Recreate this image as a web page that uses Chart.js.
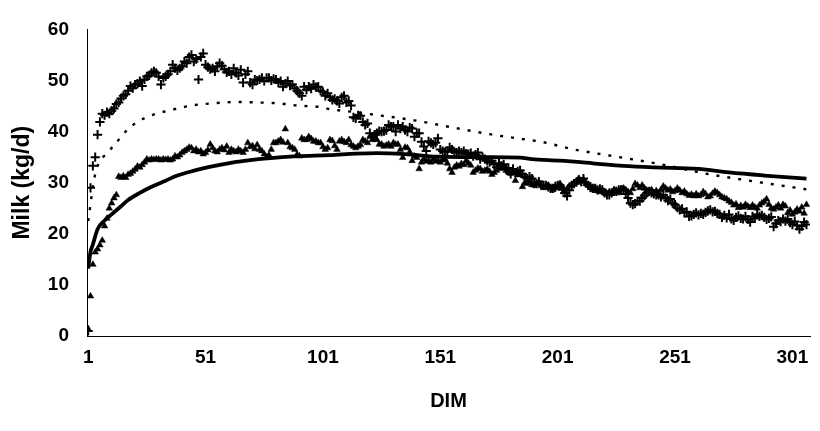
<!DOCTYPE html>
<html>
<head>
<meta charset="utf-8">
<script src="https://cdn.jsdelivr.net/npm/chart.js@4.4.1/dist/chart.umd.min.js"></script>
<style>
  html, body { margin: 0; padding: 0; background: #fff; }
  #chart { display: block; }
</style>
</head>
<body>
<canvas id="chart" width="820" height="431"></canvas>
<script>
// x categories (DIM) and the tick labels shown on the axis
const days = Array.from({ length: 307 }, (_, i) => i + 1);
const dimTicks = [1, 51, 101, 151, 201, 251, 301];
const milkTicks = [0, 10, 20, 30, 40, 50, 60];

// observed milk, "+" group (day 1..307)
const plusMilk = [
  1.0, 29.0, 33.3, 35.0, 39.4, 41.9, 43.5, 43.2, 43.8, 43.5,
  44.1, 44.5, 45.4, 45.7, 46.5, 47.0, 47.3, 48.0, 48.9, 48.5,
  49.2, 49.4, 49.9, 48.9, 50.2, 50.8, 51.0, 51.5, 51.8, 51.5,
  50.8, 49.2, 50.5, 50.8, 51.2, 51.8, 53.1, 52.4, 52.0, 52.4,
  52.8, 53.7, 53.4, 54.6, 55.0, 53.7, 54.2, 50.2, 54.6, 55.3,
  53.1, 52.6, 52.2, 52.4, 51.8, 52.8, 53.4, 52.9, 52.2, 51.6,
  51.8, 51.2, 52.4, 51.5, 51.0, 52.1, 49.6, 51.2, 51.8, 49.6,
  49.2, 50.2, 50.0, 50.2, 50.5, 49.9, 50.5, 50.5, 50.0, 50.3,
  50.2, 49.6, 49.9, 48.8, 49.4, 49.9, 49.0, 49.2, 48.5, 48.0,
  47.5, 47.0, 48.8, 48.2, 48.8, 48.4, 49.2, 48.7, 48.8, 48.0,
  47.8, 47.0, 47.5, 46.7, 46.2, 46.4, 46.0, 45.5, 46.7, 47.0,
  45.7, 46.0, 45.1, 42.8, 42.6, 43.2, 43.1, 41.9, 41.3, 41.6,
  39.7, 39.0, 39.4, 39.7, 40.1, 40.0, 40.1, 40.3, 41.3, 41.0,
  41.0, 40.0, 41.3, 40.6, 41.0, 40.3, 40.0, 40.8, 40.6, 39.0,
  39.7, 39.7, 38.0, 37.1, 36.2, 38.1, 37.8, 37.5, 37.8, 38.7,
  36.5, 36.2, 36.0, 36.2, 36.9, 36.5, 36.0, 35.9, 36.2, 35.9,
  36.2, 35.7, 35.6, 35.8, 35.2, 35.5, 35.9, 34.6, 35.0, 34.6,
  34.3, 34.0, 34.3, 33.6, 33.0, 33.8, 33.3, 33.6, 32.7, 32.9,
  31.7, 32.7, 32.0, 32.2, 32.4, 31.7, 31.1, 30.8, 31.2, 30.8,
  29.8, 29.8, 30.2, 29.6, 29.5, 29.5, 29.2, 28.9, 28.9, 29.3,
  29.5, 29.5, 28.6, 28.0, 27.4, 28.5, 29.5, 29.8, 30.1, 30.5,
  30.2, 30.8, 30.0, 29.5, 29.2, 28.9, 28.9, 28.6, 28.8, 28.6,
  28.0, 27.6, 27.6, 28.0, 28.3, 28.3, 28.6, 28.6, 28.6, 27.8,
  27.0, 26.0, 25.7, 25.9, 26.4, 26.4, 27.0, 27.5, 28.0, 28.3,
  28.0, 27.8, 27.6, 27.6, 27.2, 27.6, 27.0, 26.5, 26.8, 26.0,
  25.7, 25.1, 24.7, 24.9, 24.1, 24.3, 23.4, 23.5, 23.8, 24.1,
  23.7, 24.0, 23.8, 24.2, 24.5, 24.7, 24.3, 24.4, 24.0, 23.8,
  23.2, 23.6, 23.1, 23.8, 22.9, 22.6, 23.2, 23.5, 23.0, 22.9,
  23.4, 22.8, 22.3, 23.4, 23.0, 23.8, 23.4, 23.6, 23.2, 22.8,
  23.0, 23.3, 21.4, 22.0, 22.6, 22.4, 22.9, 22.5, 22.9, 22.2,
  21.8, 22.4, 21.6, 20.9, 21.5, 22.3, 21.8
];

// observed milk, triangle group (day 1..307)
const triMilk = [
  1.4, 7.8, 14.0, 16.4, 17.0, 17.8, 18.7, 21.5, 23.0, 25.0,
  26.0, 27.0, 27.6, 31.2, 31.0, 31.3, 31.0, 31.6, 31.8, 32.2,
  32.6, 33.2, 33.0, 33.5, 34.0, 34.6, 34.4, 34.6, 34.5, 34.6,
  34.6, 34.4, 34.6, 34.5, 34.6, 34.4, 34.6, 35.2, 35.0, 35.4,
  35.9, 36.2, 36.5, 36.9, 36.8, 36.2, 36.5, 36.0, 36.2, 35.6,
  35.9, 36.4, 37.5, 36.8, 36.2, 36.0, 36.5, 36.8, 36.4, 37.1,
  35.9, 36.5, 36.2, 36.0, 36.5, 36.2, 35.9, 36.5, 37.8, 37.0,
  37.2, 36.6, 37.4, 36.5, 36.2, 35.6, 35.0, 35.4, 36.5, 37.8,
  37.8, 38.1, 38.4, 37.9, 40.5, 37.8, 37.0, 36.8, 36.5, 35.5,
  35.2, 38.7, 38.4, 38.4, 39.0, 38.6, 38.1, 38.1, 37.8, 37.8,
  37.0, 36.5, 36.8, 38.4, 38.2, 37.2, 36.5, 38.1, 38.4, 38.0,
  37.8, 38.4, 37.4, 37.1, 36.8, 37.1, 37.4, 38.4, 38.1, 37.8,
  39.0, 38.4, 38.7, 38.4, 37.5, 37.5, 37.1, 37.3, 37.5, 37.1,
  37.8, 37.5, 37.5, 36.5, 34.9, 36.9, 36.8, 36.0, 34.3, 35.2,
  34.9, 32.7, 34.0, 34.6, 34.2, 34.3, 34.0, 34.6, 34.2, 34.3,
  34.0, 34.4, 34.6, 33.8, 32.7, 32.0, 33.0, 33.4, 33.2, 33.7,
  33.5, 34.3, 33.8, 33.4, 32.0, 32.4, 32.8, 32.7, 32.2, 32.4,
  32.6, 32.2, 31.6, 32.0, 32.4, 32.8, 33.4, 32.8, 32.4, 32.1,
  31.8, 32.0, 30.4, 31.5, 31.7, 29.2, 30.0, 29.8, 30.2, 29.6,
  29.5, 29.8, 30.0, 29.4, 29.0, 29.3, 29.5, 29.0, 28.6, 29.0,
  29.4, 29.8, 29.2, 28.5, 28.8, 29.4, 29.6, 30.0, 30.3, 30.8,
  30.4, 30.6, 29.8, 29.5, 29.0, 28.6, 29.0, 28.4, 28.2, 28.5,
  28.0, 27.8, 28.2, 28.0, 28.6, 28.4, 28.0, 28.8, 28.9, 28.6,
  28.2, 28.0, 28.8, 29.8, 29.5, 29.0, 29.5, 28.9, 28.5, 28.3,
  28.6, 28.0, 28.4, 28.0, 28.6, 29.3, 28.9, 28.5, 28.7, 28.2,
  28.4, 28.9, 28.5, 28.0, 28.3, 27.8, 27.5, 27.7, 27.4, 27.8,
  27.4, 27.6, 28.2, 27.8, 27.2, 27.4, 27.9, 28.3, 28.0, 27.6,
  27.2, 27.0, 26.8, 26.4, 26.1, 25.6, 25.8, 25.1, 25.5, 25.2,
  25.7, 25.4, 25.1, 25.6, 25.2, 25.0, 25.6, 26.0, 26.3, 26.8,
  25.7, 25.0, 24.8, 25.2, 25.6, 25.0, 25.7, 25.4, 24.1, 24.6,
  23.8, 24.2, 24.8, 24.4, 25.2, 24.0, 25.7
];

// fitted curve for the "+" group (dotted)
const plusFitDays = [1, 4, 10, 14, 18, 22, 28, 37, 45, 56, 65, 73, 83, 90, 100, 104, 113, 123, 140, 154, 172, 185, 194, 208, 226, 245, 265, 284, 307];
const plusFit = [22.5, 31.7, 36.2, 38.4, 40.5, 41.9, 43.2, 44.3, 45.1, 45.6, 45.8, 45.7, 45.5, 45.1, 44.8, 44.4, 43.9, 43.3, 42.2, 41.0, 39.5, 38.6, 38.0, 36.5, 35.1, 33.6, 31.7, 30.3, 28.7];

// fitted curve for the triangle group (solid)
const triFitDays = [1, 2, 3, 5, 8, 11, 15, 18, 23, 28, 34, 39, 44, 49, 56, 63, 70, 76, 90, 104, 115, 124, 136, 150, 170, 185, 190, 202, 216, 229, 242, 261, 274, 289, 307];
const triFit = [13.2, 16.5, 17.9, 20.9, 22.6, 23.8, 25.4, 26.6, 28.0, 29.2, 30.4, 31.4, 32.1, 32.7, 33.4, 34.0, 34.4, 34.7, 35.2, 35.4, 35.7, 35.8, 35.6, 35.1, 35.0, 34.9, 34.6, 34.3, 33.8, 33.3, 33.0, 32.7, 32.0, 31.4, 30.8];

const toXY = (xs, ys) => xs.map((x, i) => ({ x: x, y: ys[i] }));

const fontFamily = "'Liberation Sans', Arial, sans-serif";
const tickFont = { family: fontFamily, size: 19, weight: "bold" };

const ctx = document.getElementById("chart").getContext("2d");
new Chart(ctx, {
  type: "scatter",
  data: {
    datasets: [
      {
        label: "+ observed",
        data: toXY(days, plusMilk),
        pointStyle: "cross",
        pointRadius: 4.6,
        borderColor: "#000",
        borderWidth: 2
      },
      {
        label: "triangle observed",
        data: toXY(days, triMilk),
        pointStyle: "triangle",
        pointRadius: 3.8,
        backgroundColor: "#000",
        borderColor: "#000",
        borderWidth: 0.5
      },
      {
        label: "+ fitted",
        data: toXY(plusFitDays, plusFit),
        showLine: true,
        pointRadius: 0,
        borderColor: "#000",
        borderWidth: 2.4,
        borderDash: [3, 8],
        cubicInterpolationMode: "monotone"
      },
      {
        label: "triangle fitted",
        data: toXY(triFitDays, triFit),
        showLine: true,
        pointRadius: 0,
        borderColor: "#000",
        borderWidth: 3.8,
        cubicInterpolationMode: "monotone"
      }
    ]
  },
  options: {
    responsive: false,
    animation: false,
    layout: { padding: { top: 22, right: 10, bottom: 0, left: 0 } },
    plugins: {
      legend: { display: false },
      tooltip: { enabled: false }
    },
    scales: {
      x: {
        type: "linear",
        min: 0.5,
        max: 308.5,
        afterBuildTicks: s => { s.ticks = dimTicks.map(v => ({ value: v })); },
        afterFit: s => { s.height = 95; },
        grid: { display: false, drawTicks: false },
        border: { display: true, color: "#000", width: 1 },
        ticks: {
          font: tickFont,
          color: "#000",
          padding: 10,
          maxRotation: 0,
          callback: v => String(v)
        },
        title: {
          display: true,
          text: "DIM",
          color: "#000",
          font: { family: fontFamily, size: 20, weight: "bold" },
          padding: { top: 0, bottom: 18 }
        }
      },
      y: {
        min: 0,
        max: 60,
        afterBuildTicks: s => { s.ticks = milkTicks.map(v => ({ value: v })); },
        afterFit: s => { s.width = 87; },
        grid: { display: false, drawTicks: false },
        border: { display: true, color: "#000", width: 1 },
        ticks: {
          font: tickFont,
          color: "#000",
          padding: 18,
          callback: v => String(v)
        },
        title: {
          display: true,
          text: "Milk (kg/d)",
          color: "#000",
          font: { family: fontFamily, size: 23, weight: "bold" },
          padding: { top: 9, bottom: 0 }
        }
      }
    }
  }
});
</script>
</body>
</html>
